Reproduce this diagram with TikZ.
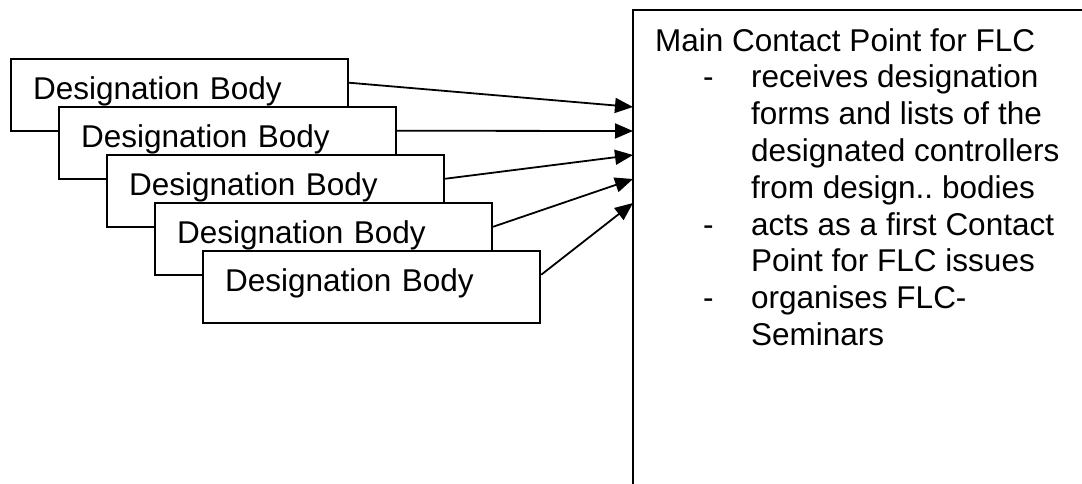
\documentclass[tikz,border=0pt]{standalone}
\usepackage{fontspec}
\setmainfont{Liberation Sans}
\frenchspacing
\usetikzlibrary{arrows.meta,positioning,calc}

\begin{document}
\begin{tikzpicture}[x=1pt, y=-1pt,
  body/.style={draw, fill=white, line width=2.2pt,
               font=\fontsize{31.5}{36.8}\selectfont,
               text width=293pt, inner xsep=22pt, inner ysep=0pt,
               text height=40pt, text depth=32pt, align=left,
               anchor=north west},
  mainbox/.style={draw, line width=2.2pt, outer sep=0pt, inner sep=0pt,
                  minimum width=470pt, minimum height=490pt,
                  anchor=north west},
  maintext/.style={font=\fontsize{31.5}{36.8}\selectfont,
                   align=left, inner sep=0pt, anchor=north west},
  link/.style={-{Triangle[length=18pt, width=15pt]}, line width=1.8pt},
]

\useasboundingbox (0,0) rectangle (1082,483);

% Main contact point
\node[mainbox]  (mcp) at (633,10) {};
\node[maintext] (mcptext) at (655,28) {Main Contact Point for FLC\\
  \hspace*{48pt}\makebox[48pt][l]{-}receives designation\\
  \hspace*{96pt}forms and lists of the\\
  \hspace*{96pt}designated controllers\\
  \hspace*{96pt}from design.. bodies\\
  \hspace*{48pt}\makebox[48pt][l]{-}acts as a first Contact\\
  \hspace*{96pt}Point for FLC issues\\
  \hspace*{48pt}\makebox[48pt][l]{-}organises FLC-\\
  \hspace*{96pt}Seminars};

% Designation bodies
\node[body] (db1) at (10,58)  {Designation Body};
\node[body] (db2) at (58,106) {Designation Body};
\node[body] (db3) at (106,154) {Designation Body};
\node[body] (db4) at (154,202) {Designation Body};
\node[body] (db5) at (202,250) {Designation Body};

% Arrow ends
\coordinate (in1) at ($(mcp.north west)+(0,97)$);
\coordinate (in2) at ($(mcp.north west)+(0,121)$);
\coordinate (in3) at ($(mcp.north west)+(0,145)$);
\coordinate (in4) at ($(mcp.north west)+(0,169)$);
\coordinate (in5) at ($(mcp.north west)+(0,193)$);

% Arrows
\draw[link] ($(db1.north east)!1/3!(db1.south east)$) -- (in1);
\draw[link] ($(db2.north east)!1/3!(db2.south east)$) -- (in2);
\draw[link] ($(db3.north east)!1/3!(db3.south east)$) -- (in3);
\draw[link] ($(db4.north east)!1/3!(db4.south east)$) -- (in4);
\draw[link] ($(db5.north east)!1/3!(db5.south east)$) -- (in5);

\end{tikzpicture}
\end{document}
